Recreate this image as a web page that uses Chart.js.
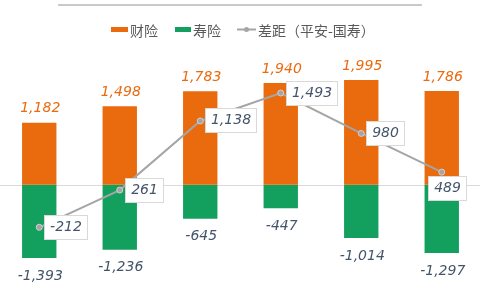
<!DOCTYPE html>
<html>
<head>
<meta charset="utf-8">
<script src="https://cdn.jsdelivr.net/npm/chart.js@4.4.0/dist/chart.umd.min.js"></script>
<style>
  html, body { margin: 0; padding: 0; background: #fff; overflow: hidden; }
  #wrap { position: absolute; left: -6px; top: 0; width: 493px; height: 300px; }
</style>
</head>
<body>
<div id="wrap"><canvas id="gap_chart"></canvas></div>
<script>
var categories = ['1', '2', '3', '4', '5', '6'];
var property_values = [1182, 1498, 1783, 1940, 1995, 1786];
var life_values = [-1393, -1236, -645, -447, -1014, -1297];
var gap_values = [-212, 261, 1138, 1493, 980, 489];
var series_names = ['财险', '寿险', '差距（平安-国寿）'];

var orange = '#EA6A0E';
var green = '#13A05E';
var grey_line = '#A5A5A5';
var label_dark = '#44546A';
var shift_x = 6; // canvas sits 6px left of the page
var label_font = 'italic 14px "DejaVu Sans", sans-serif';
var cjk_font = '14px "Noto Sans CJK SC", sans-serif';

function fmt(v) {
  return v.toLocaleString('en-US');
}

// zero line + top rule + legend + value labels
var decorPlugin = {
  id: 'decor',
  beforeDatasetsDraw: function (chart) {
    var ctx = chart.ctx;
    var y0 = Math.round(chart.scales.y.getPixelForValue(0)) + 0.5;
    ctx.save();
    ctx.strokeStyle = '#D9D9D9';
    ctx.lineWidth = 1;
    ctx.beginPath();
    ctx.moveTo(0, y0);
    ctx.lineTo(chart.width, y0);
    ctx.stroke();
    ctx.restore();
  },
  afterDraw: function (chart) {
    var ctx = chart.ctx;
    ctx.save();

    // top rule
    ctx.fillStyle = '#C9C9C9';
    ctx.fillRect(58 + shift_x, 4, 364, 2);

    // legend
    ctx.font = cjk_font;
    ctx.textBaseline = 'middle';
    ctx.textAlign = 'left';
    ctx.fillStyle = orange;
    ctx.fillRect(111 + shift_x, 27, 17, 5);
    ctx.fillStyle = green;
    ctx.fillRect(175 + shift_x, 27, 16, 5);
    ctx.strokeStyle = grey_line;
    ctx.lineWidth = 2;
    ctx.beginPath();
    ctx.moveTo(237 + shift_x, 29.5);
    ctx.lineTo(256 + shift_x, 29.5);
    ctx.stroke();
    ctx.fillStyle = grey_line;
    ctx.beginPath();
    ctx.arc(246.5 + shift_x, 29.5, 2.5, 0, Math.PI * 2);
    ctx.fill();
    ctx.fillStyle = '#595959';
    ctx.fillText(series_names[0], 130 + shift_x, 31);
    ctx.fillText(series_names[1], 193 + shift_x, 31);
    ctx.fillText(series_names[2], 258 + shift_x, 31);

    // bar labels
    ctx.font = label_font;
    ctx.textAlign = 'center';
    var propMeta = chart.getDatasetMeta(0);
    var lifeMeta = chart.getDatasetMeta(1);
    propMeta.data.forEach(function (el, i) {
      ctx.fillStyle = orange;
      ctx.fillText(fmt(property_values[i]), el.x + 1, el.y - 14);
    });
    lifeMeta.data.forEach(function (el, i) {
      ctx.fillStyle = label_dark;
      ctx.fillText(fmt(life_values[i]), el.x + 1, el.y + 18);
    });

    // line labels in white boxes
    var gapMeta = chart.getDatasetMeta(2);
    gapMeta.data.forEach(function (pt, i) {
      var txt = fmt(gap_values[i]);
      var w = Math.round(ctx.measureText(txt).width) + 12;
      var h = 25;
      var bx, by;
      if (i === gapMeta.data.length - 1) {
        bx = Math.round(pt.x) - 14;
        by = Math.round(pt.y) + 4;
      } else {
        bx = Math.round(pt.x) + 5;
        by = Math.round(pt.y - h / 2);
      }
      ctx.fillStyle = '#FFFFFF';
      ctx.fillRect(bx, by, w, h);
      ctx.strokeStyle = '#D9D9D9';
      ctx.lineWidth = 1;
      ctx.strokeRect(bx + 0.5, by + 0.5, w - 1, h - 1);
      ctx.fillStyle = label_dark;
      ctx.fillText(txt, bx + w / 2, by + h / 2);
    });

    ctx.restore();
  }
};

var ctx = document.getElementById('gap_chart').getContext('2d');
var gap_chart = new Chart(ctx, {
  type: 'bar',
  data: {
    labels: categories,
    datasets: [{
      label: series_names[0],
      data: property_values,
      backgroundColor: orange,
      borderWidth: 0,
      order: 2
    }, {
      label: series_names[1],
      data: life_values,
      backgroundColor: green,
      borderWidth: 0,
      order: 2
    }, {
      type: 'line',
      label: series_names[2],
      data: gap_values,
      yAxisID: 'y2',
      borderColor: grey_line,
      borderWidth: 2,
      pointRadius: 3,
      pointBackgroundColor: grey_line,
      pointBorderColor: '#D0D0D0',
      pointBorderWidth: 1,
      tension: 0,
      order: 0
    }]
  },
  options: {
    responsive: true,
    maintainAspectRatio: false,
    animation: false,
    layout: { padding: 0 },
    datasets: {
      bar: { categoryPercentage: 1, barPercentage: 0.427 }
    },
    plugins: {
      legend: { display: false },
      tooltip: { enabled: false }
    },
    scales: {
      x: { display: false, stacked: true },
      y: { display: false, stacked: true, min: -2099, max: 3425 },
      y2: { display: false, position: 'right', min: -1071, max: 2610 }
    }
  },
  plugins: [decorPlugin]
});
</script>
</body>
</html>
